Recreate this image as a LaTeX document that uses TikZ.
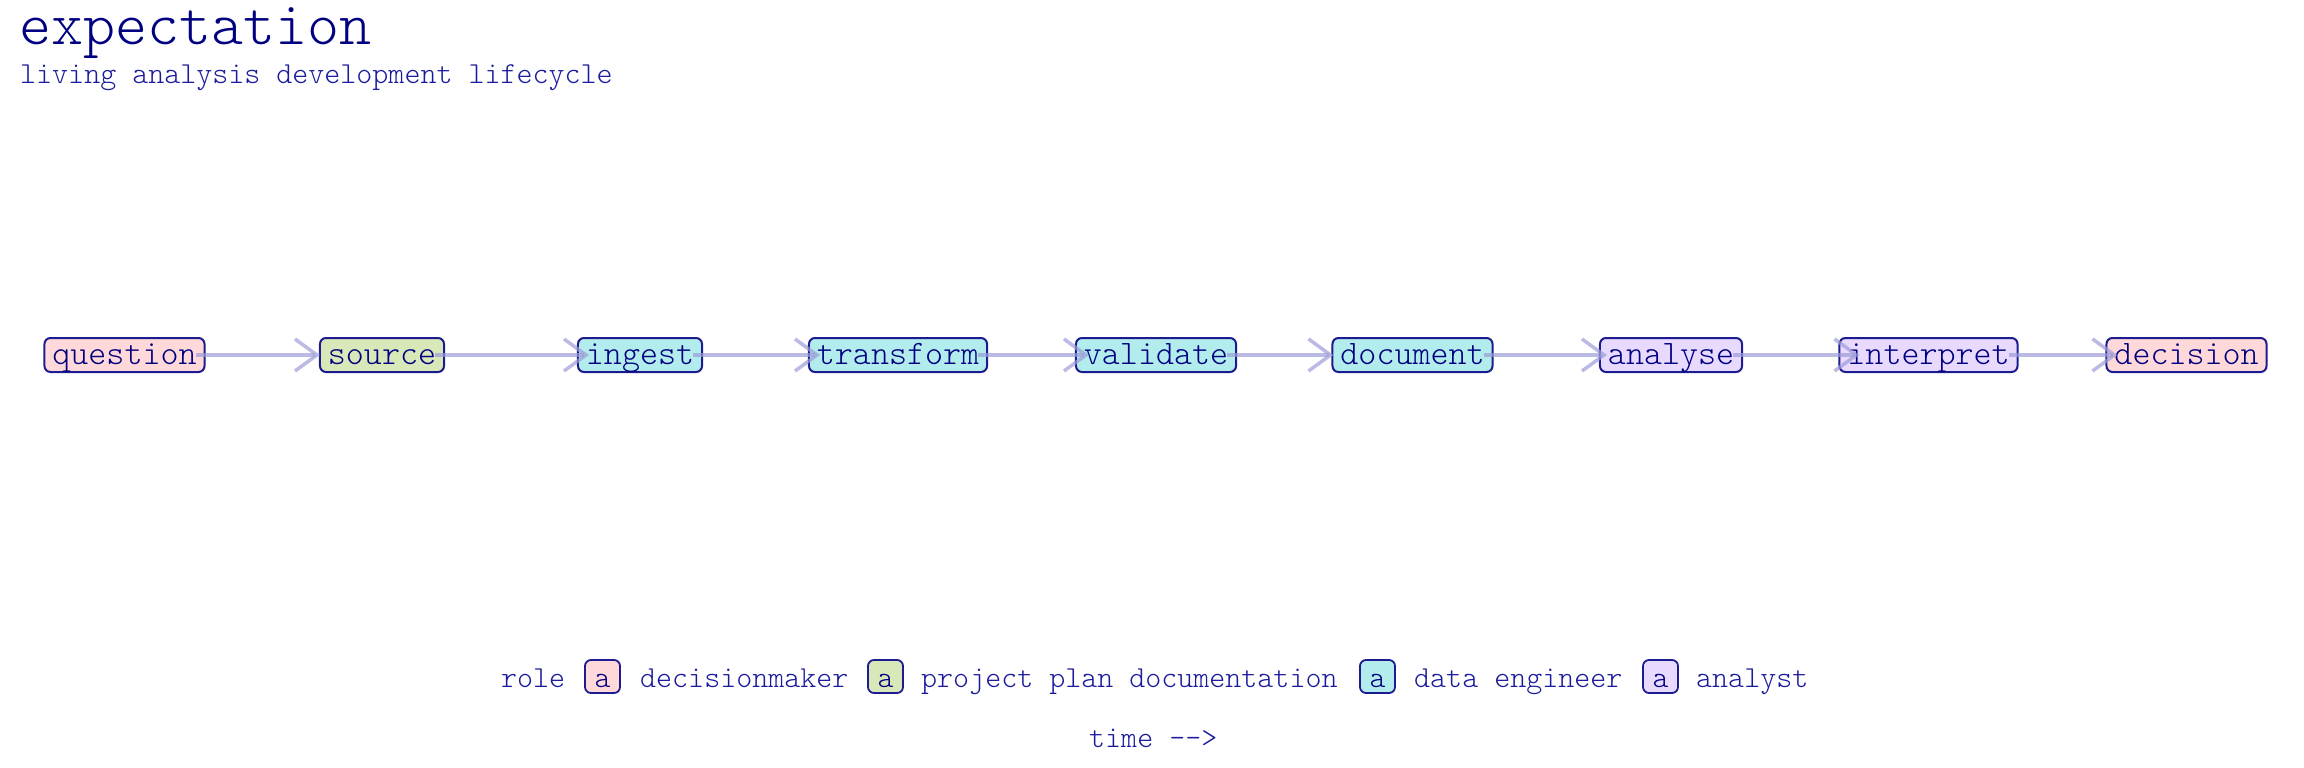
\documentclass[tikz,border=0pt]{standalone}
\usepackage{fontspec}
\setmonofont{Latin Modern Mono Light}
\usetikzlibrary{arrows.meta}
\definecolor{navy}{HTML}{000080}
\definecolor{legtxt}{HTML}{1A1A9C}
\definecolor{bord}{HTML}{1C1C90}
\definecolor{fpink}{HTML}{FFD9D9}
\definecolor{fgreen}{HTML}{D9E8B8}
\definecolor{fcyan}{HTML}{B2ECEC}
\definecolor{flav}{HTML}{E8D9FF}
\definecolor{edgec}{HTML}{9C9CD8}
\begin{document}
\begin{tikzpicture}[x=1pt,y=-1pt,
  stage/.style={draw=bord, line width=2pt, rounded corners=6pt,
    font=\ttfamily\fontsize{34.3}{40}\selectfont, text=navy,
    inner xsep=8pt, inner ysep=2pt, text height=24pt, text depth=6pt},
  legbox/.style={draw=bord, line width=1.8pt, rounded corners=6pt,
    font=\ttfamily\fontsize{30.5}{36}\selectfont, text=navy,
    inner xsep=9.5pt, inner ysep=3pt, text height=24pt, text depth=3pt},
  legtext/.style={anchor=base west, inner sep=0pt,
    font=\ttfamily\fontsize{30.5}{36}\selectfont, text=legtxt},
  flow/.style={draw=edgec, line width=3.5pt, opacity=0.7,
    -{Straight Barb[length=22pt,width=32pt]}},
]
\useasboundingbox (0,0) rectangle (2304,768);

\node[anchor=base west, inner sep=0pt, font=\ttfamily\fontsize{61}{66}\selectfont, text=navy] (title) at (19,45) {expectation};
\node[legtext] (subtitle) at (20,83) {living analysis development lifecycle};

\node[stage, fill=fpink]  (question)  at (124.5,355) {question};
\node[stage, fill=fgreen] (source)    at (382,355)   {source};
\node[stage, fill=fcyan]  (ingest)    at (640,355)   {ingest};
\node[stage, fill=fcyan]  (transform) at (898,355)   {transform};
\node[stage, fill=fcyan]  (validate)  at (1156,355)  {validate};
\node[stage, fill=fcyan]  (document)  at (1412.5,355) {document};
\node[stage, fill=flav]   (analyse)   at (1671,355)  {analyse};
\node[stage, fill=flav]   (interpret) at (1928.5,355) {interpret};
\node[stage, fill=fpink]  (decision)  at (2186.5,355) {decision};

\draw[flow] ([xshift=-10pt]question.east)  -- ([xshift=1pt]source.west);
\draw[flow] ([xshift=-10pt]source.east)    -- ([xshift=12pt]ingest.west);
\draw[flow] ([xshift=-10pt]ingest.east)    -- ([xshift=12pt]transform.west);
\draw[flow] ([xshift=-10pt]transform.east) -- ([xshift=14pt]validate.west);
\draw[flow] ([xshift=-10pt]validate.east)  -- ([xshift=2pt]document.west);
\draw[flow] ([xshift=-10pt]document.east)  -- ([xshift=8pt]analyse.west);
\draw[flow] ([xshift=-10pt]analyse.east)   -- ([xshift=21pt]interpret.west);
\draw[flow] ([xshift=-10pt]interpret.east) -- ([xshift=12pt]decision.west);

\node[legtext] (lrole) at (501,687) {role};
\node[legbox, fill=fpink]  (k1) at (602.5,676.5) {a};
\node[legtext] (l1) at (640,687) {decisionmaker};
\node[legbox, fill=fgreen] (k2) at (885.5,676.5) {a};
\node[legtext] (l2) at (921,687) {project plan documentation};
\node[legbox, fill=fcyan]  (k3) at (1377.5,676.5) {a};
\node[legtext] (l3) at (1414,687) {data engineer};
\node[legbox, fill=flav]   (k4) at (1660.5,676.5) {a};
\node[legtext] (l4) at (1696,687) {analyst};

\node[legtext] (time) at (1089,747) {time {-}{-}>};
\end{tikzpicture}
\end{document}
